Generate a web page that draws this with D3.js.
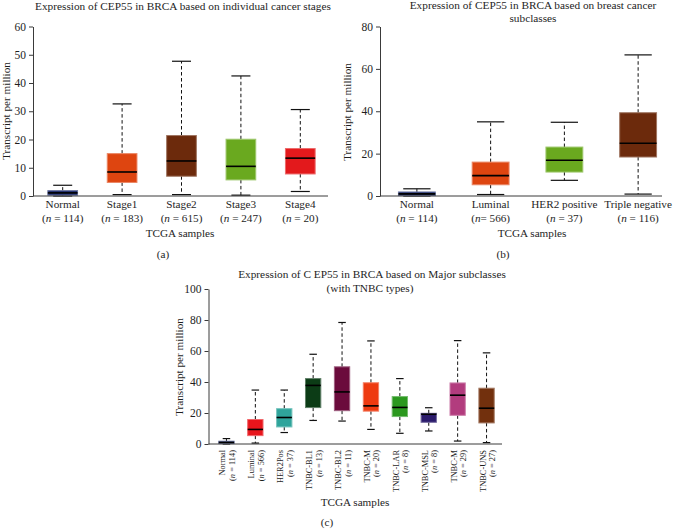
<!DOCTYPE html>
<html>
<head>
<meta charset="utf-8">
<script src="https://cdn.jsdelivr.net/npm/d3@7"></script>
<style>
  html, body { margin: 0; padding: 0; background: #fff; }
  svg { display: block; font-family: "Liberation Serif", "DejaVu Serif", serif; }
</style>
</head>
<body>
<svg id="chart" width="675" height="529"></svg>
<script>
// ---------- Panel (a): individual cancer stages ----------
const aCategories = ["Normal", "Stage1", "Stage2", "Stage3", "Stage4"];
const aN          = ["114", "183", "615", "247", "20"];
const aMin        = [0.0, 0.5, 0.5, 0.3, 1.6];
const aQ1         = [0.3, 4.8, 7.0, 5.7, 7.8];
const aMedian     = [1.1, 8.5, 12.4, 10.5, 13.4];
const aQ3         = [1.9, 15.0, 21.4, 20.1, 16.8];
const aMax        = [3.8, 32.6, 47.7, 42.5, 30.6];
const aTicks      = [0, 10, 20, 30, 40, 50, 60];

// ---------- Panel (b): breast cancer subclasses ----------
const bCategories = ["Normal", "Luminal", "HER2 positive", "Triple negative"];
const bN          = ["n = 114", "n= 566", "n = 37", "n = 116"];
const bMin        = [0.0, 0.7, 7.4, 0.9];
const bQ1         = [0.2, 5.3, 11.3, 18.4];
const bMedian     = [1.0, 9.6, 16.9, 24.9];
const bQ3         = [1.9, 16.0, 23.1, 39.3];
const bMax        = [3.4, 35.0, 34.8, 66.6];
const bTicks      = [0, 20, 40, 60, 80];

// ---------- Panel (c): major subclasses with TNBC types ----------
const cCategories = ["Normal", "Luminal", "HER2Pos", "TNBC-BL1", "TNBC-BL2", "TNBC-M", "TNBC-LAR", "TNBC-MSL", "TNBC-M", "TNBC-UNS"];
const cN          = ["114", "566", "37", "13", "11", "20", "8", "8", "29", "27"];
const cMin        = [0.0, 0.6, 7.4, 15.2, 14.8, 9.4, 6.9, 8.4, 1.9, 0.9];
const cQ1         = [0.3, 5.4, 11.0, 23.5, 21.5, 21.2, 17.7, 14.0, 18.5, 13.6];
const cMedian     = [1.0, 9.4, 17.1, 37.8, 33.6, 24.6, 23.6, 19.2, 31.5, 23.1];
const cQ3         = [1.8, 15.8, 22.8, 42.2, 49.8, 39.5, 30.6, 19.8, 39.4, 36.0];
const cMax        = [3.5, 34.8, 34.8, 57.9, 78.4, 66.5, 42.2, 23.4, 66.7, 58.8];
const cTicks      = [0, 20, 40, 60, 80, 100];

// ---------- colours (style) ----------
const aColors = ["#1b2a6b", "#de4510", "#6c2a0c", "#6aa91f", "#e3191c"];
const bColors = ["#1b2a6b", "#de4510", "#6aa91f", "#6c2a0c"];
const cColors = ["#1b2a6b", "#e8151c", "#2fa49b", "#0c3c16", "#6b0b3c", "#ee3a10", "#2b981e", "#2b1b6c", "#b23c7e", "#72300d"];

const svg = d3.select("#chart");
const AXIS = "#3a3a3a";
const INK = "#1e1e1e";

function drawBoxes(g, cats, mins, q1s, meds, q3s, maxs, colors, x, y, boxFrac, capFrac) {
  const bw = x.bandwidth() * boxFrac;
  const cw = x.bandwidth() * capFrac;
  cats.forEach((c, i) => {
    const cx = x(i) + x.bandwidth() / 2;
    const gg = g.append("g");
    gg.append("line").attr("x1", cx).attr("x2", cx)
      .attr("y1", y(q3s[i])).attr("y2", y(maxs[i]))
      .attr("stroke", "#111").attr("stroke-width", 1).attr("stroke-dasharray", "3.5,2.5");
    gg.append("line").attr("x1", cx).attr("x2", cx)
      .attr("y1", y(q1s[i])).attr("y2", y(mins[i]))
      .attr("stroke", "#111").attr("stroke-width", 1).attr("stroke-dasharray", "3.5,2.5");
    [maxs[i], mins[i]].forEach(v => {
      gg.append("line").attr("x1", cx - cw / 2).attr("x2", cx + cw / 2)
        .attr("y1", y(v)).attr("y2", y(v))
        .attr("stroke", "#111").attr("stroke-width", 1.2);
    });
    gg.append("rect")
      .attr("x", cx - bw / 2).attr("width", bw)
      .attr("y", y(q3s[i])).attr("height", Math.max(1, y(q1s[i]) - y(q3s[i])))
      .attr("fill", colors[i])
      .attr("stroke", d3.interpolateRgb(colors[i], "#ffffff")(0.35))
      .attr("stroke-width", 1);
    gg.append("line").attr("x1", cx - bw / 2).attr("x2", cx + bw / 2)
      .attr("y1", y(meds[i])).attr("y2", y(meds[i]))
      .attr("stroke", "#000").attr("stroke-width", 1.6);
  });
}

function yAxis(g, y, ticks, xPos, fontSize) {
  const ax = g.append("g").attr("transform", `translate(${xPos},0)`)
    .call(d3.axisLeft(y).tickValues(ticks).tickSize(4).tickPadding(3).tickSizeOuter(0));
  ax.select(".domain").attr("stroke", AXIS);
  ax.selectAll(".tick line").attr("stroke", AXIS);
  ax.selectAll(".tick text").attr("font-size", fontSize).attr("fill", INK)
    .attr("font-family", "Liberation Serif, DejaVu Serif, serif");
}

function text(g, t, x, y, size, anchor) {
  return g.append("text").attr("x", x).attr("y", y).attr("font-size", size)
    .attr("text-anchor", anchor || "middle").attr("fill", INK).text(t);
}

// ===================== Panel (a) =====================
{
  const g = svg.append("g");
  const x = d3.scaleBand().domain(d3.range(aCategories.length)).range([33, 330]);
  const y = d3.scaleLinear().domain([0, 60]).range([196, 26.5]);
  text(g, "Expression of CEP55 in BRCA based on individual cancer stages", 183, 10, 11.3);
  drawBoxes(g, aCategories, aMin, aQ1, aMedian, aQ3, aMax, aColors, x, y, 0.5, 0.32);
  yAxis(g, y, aTicks, 33, 11.5);
  g.append("line").attr("x1", 33).attr("x2", 328).attr("y1", y(0)).attr("y2", y(0))
    .attr("stroke", AXIS).attr("stroke-width", 1);
  aCategories.forEach((c, i) => {
    const cx = x(i) + x.bandwidth() / 2;
    text(g, c, cx, 208, 11.2);
    const t = text(g, "", cx, 222, 11.2);
    t.append("tspan").text("(");
    t.append("tspan").attr("font-style", "italic").text("n");
    t.append("tspan").text(" = " + aN[i] + ")");
  });
  text(g, "TCGA samples", 180, 237, 11.2);
  text(g, "(a)", 163, 258, 11.2);
  g.append("text").attr("transform", "translate(10,111) rotate(-90)")
    .attr("text-anchor", "middle").attr("font-size", 11.2).attr("fill", INK)
    .text("Transcript per million");
}

// ===================== Panel (b) =====================
{
  const g = svg.append("g");
  const x = d3.scaleBand().domain(d3.range(bCategories.length)).range([380, 675]);
  const y = d3.scaleLinear().domain([0, 80]).range([196, 26.5]);
  text(g, "Expression of CEP55 in BRCA based on breast cancer", 533, 9, 11.3);
  text(g, "subclasses", 533, 22, 11.3);
  drawBoxes(g, bCategories, bMin, bQ1, bMedian, bQ3, bMax, bColors, x, y, 0.5, 0.37);
  yAxis(g, y, bTicks, 380, 11.5);
  g.append("line").attr("x1", 380).attr("x2", 662).attr("y1", y(0)).attr("y2", y(0))
    .attr("stroke", AXIS).attr("stroke-width", 1);
  bCategories.forEach((c, i) => {
    const cx = x(i) + x.bandwidth() / 2;
    text(g, c, cx, 208, 11.2);
    const t = text(g, "", cx, 222, 11.2);
    t.append("tspan").text("(");
    t.append("tspan").attr("font-style", "italic").text("n");
    t.append("tspan").text(bN[i].slice(1) + ")");
  });
  text(g, "TCGA samples", 532, 237, 11.2);
  text(g, "(b)", 503, 258, 11.2);
  g.append("text").attr("transform", "translate(351,112) rotate(-90)")
    .attr("text-anchor", "middle").attr("font-size", 11.2).attr("fill", INK)
    .text("Transcript per million");
}

// ===================== Panel (c) =====================
{
  const g = svg.append("g");
  const x = d3.scaleBand().domain(d3.range(cCategories.length)).range([212, 501]);
  const y = d3.scaleLinear().domain([0, 100]).range([444, 289]);
  text(g, "Expression of C EP55 in BRCA based on Major subclasses", 372, 278, 11.3);
  text(g, "(with TNBC types)", 370, 292, 11.3);
  drawBoxes(g, cCategories, cMin, cQ1, cMedian, cQ3, cMax, cColors, x, y, 0.53, 0.26);
  yAxis(g, y, cTicks, 208.5, 11.5);
  g.append("line").attr("x1", 208.5).attr("x2", 502).attr("y1", y(0)).attr("y2", y(0))
    .attr("stroke", AXIS).attr("stroke-width", 1);
  cCategories.forEach((c, i) => {
    const cx = x(i) + x.bandwidth() / 2;
    g.append("text").attr("transform", `translate(${cx - 1},450) rotate(-90)`)
      .attr("text-anchor", "end").attr("font-size", 8.4).attr("fill", INK).text(c);
    const t = g.append("text").attr("transform", `translate(${cx + 8.5},450) rotate(-90)`)
      .attr("text-anchor", "end").attr("font-size", 8.4).attr("fill", INK);
    t.append("tspan").text("(");
    t.append("tspan").attr("font-style", "italic").text("n");
    t.append("tspan").text(" = " + cN[i] + ")");
  });
  text(g, "TCGA samples", 355, 506, 11.2);
  text(g, "(c)", 327, 526, 11.2);
  g.append("text").attr("transform", "translate(183,367) rotate(-90)")
    .attr("text-anchor", "middle").attr("font-size", 11.2).attr("fill", INK)
    .text("Transcript per million");
}
</script>
</body>
</html>
